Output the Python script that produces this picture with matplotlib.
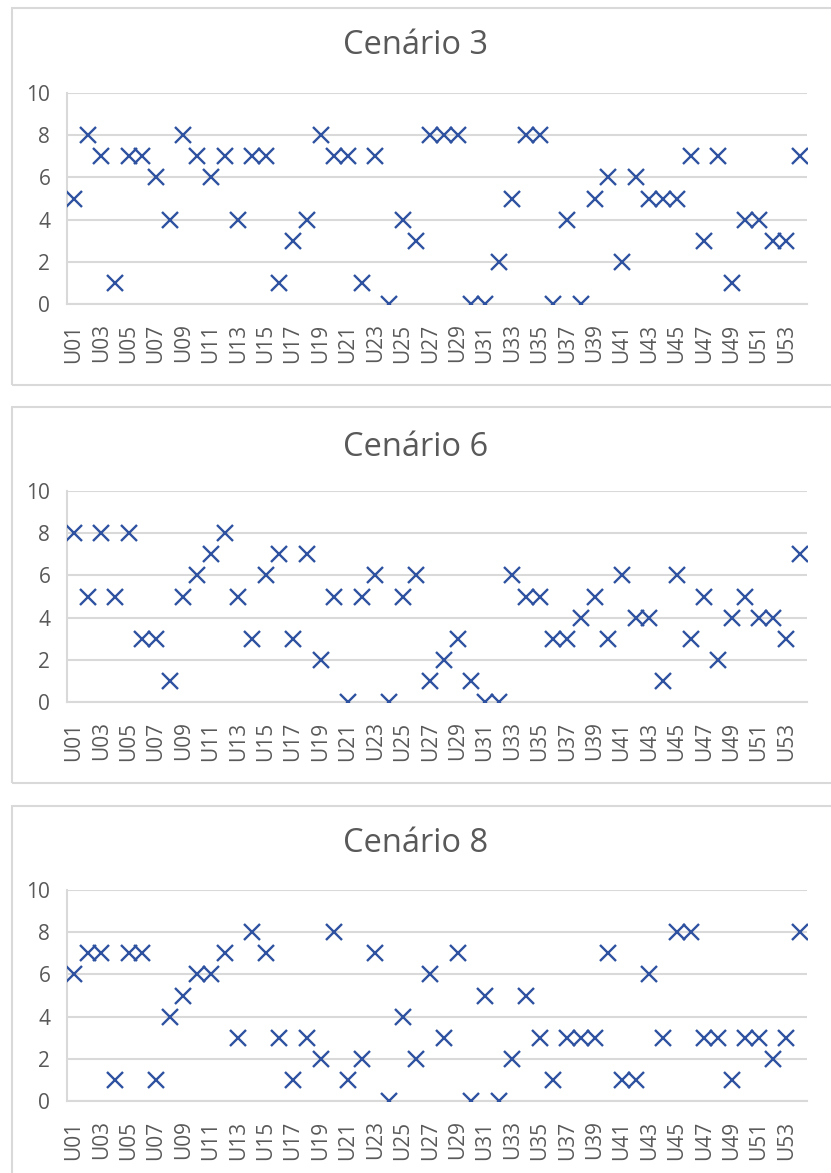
import matplotlib
matplotlib.use('Agg')
import matplotlib.pyplot as plt
from matplotlib.patches import Rectangle

plt.rcParams['font.family'] = ['Open Sans', 'DejaVu Sans']

labels = ['U%02d' % i for i in range(1, 55)]

# valores
cen3 = [5, 8, 7, 1, 7, 7, 6, 4, 8, 7, 6, 7, 4, 7, 7, 1, 3, 4, 8, 7, 7, 1, 7, 0, 4, 3, 8,
        8, 8, 0, 0, 2, 5, 8, 8, 0, 4, 0, 5, 6, 2, 6, 5, 5, 5, 7, 3, 7, 1, 4, 4, 3, 3, 7]
cen6 = [8, 5, 8, 5, 8, 3, 3, 1, 5, 6, 7, 8, 5, 3, 6, 7, 3, 7, 2, 5, 0, 5, 6, 0, 5, 6, 1,
        2, 3, 1, 0, 0, 6, 5, 5, 3, 3, 4, 5, 3, 6, 4, 4, 1, 6, 3, 5, 2, 4, 5, 4, 4, 3, 7]
cen8 = [6, 7, 7, 1, 7, 7, 1, 4, 5, 6, 6, 7, 3, 8, 7, 3, 1, 3, 2, 8, 1, 2, 7, 0, 4, 2, 6,
        3, 7, 0, 5, 0, 2, 5, 3, 1, 3, 3, 3, 7, 1, 1, 6, 3, 8, 8, 3, 3, 1, 3, 3, 2, 3, 8]

titles = ['Cenário 3', 'Cenário 6', 'Cenário 8']
series = [cen3, cen6, cen8]

W, H = 831, 1173
fig = plt.figure(figsize=(W / 100, H / 100), dpi=100)

grid_c = '#d9d9d9'
text_c = '#595959'
blue = '#2f52a0'

# caixas (px): topo, base do grafico, topo e base da area de plotagem, y do titulo
boxes = [(8, 385, 93, 304, 46), (407, 783, 491, 702, 447), (806, 1190, 890, 1101, 844)]

for (bt, bb, pt, pb, ty), title, vals in zip(boxes, titles, series):
    # moldura do grafico
    fig.patches.append(Rectangle((12 / W, 1 - bb / H), (W + 20) / W, (bb - bt) / H,
                                 transform=fig.transFigure, fill=False,
                                 edgecolor=grid_c, linewidth=1.5))
    ax = fig.add_axes([67 / W, 1 - pb / H, 740 / W, (pb - pt) / H])
    x = list(range(len(vals)))
    ax.plot(x, vals, linestyle='none', marker='x', markersize=11,
            markeredgewidth=1.7, color=blue, zorder=3)
    ax.set_xlim(-0.5, len(vals) - 0.5)
    ax.set_ylim(0, 10)
    ax.set_yticks(range(0, 11, 2))
    ax.set_xticks(x[::2])
    ax.set_xticklabels(labels[::2], rotation=90)
    ax.grid(axis='y', color=grid_c, linewidth=1.5, zorder=0)
    ax.set_axisbelow(True)
    for s in ['top', 'right']:
        ax.spines[s].set_visible(False)
    ax.spines['left'].set_color(grid_c)
    ax.spines['bottom'].set_color(grid_c)
    ax.spines['left'].set_linewidth(1.5)
    ax.spines['bottom'].set_linewidth(1.5)
    ax.tick_params(axis='both', length=0, labelsize=15, labelcolor=text_c)
    ax.tick_params(axis='y', pad=12)
    ax.tick_params(axis='x', pad=14)
    fig.text(0.5, 1 - ty / H, title, ha='center', va='center',
             fontsize=23.5, color=text_c)

fig.savefig('out.png', dpi=100)
